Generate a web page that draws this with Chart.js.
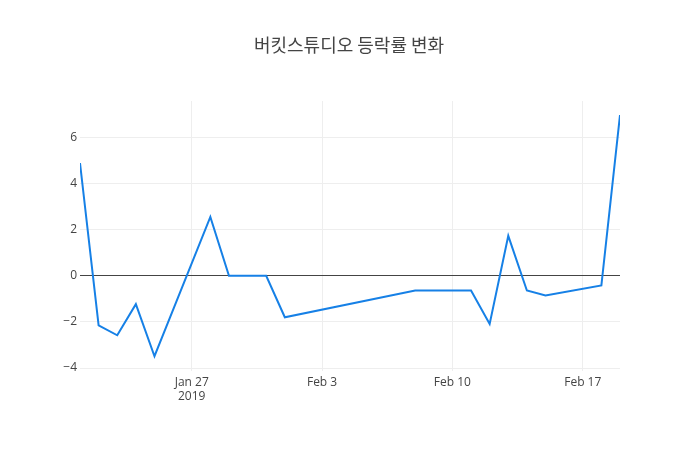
<!DOCTYPE html>
<html>
<head>
<meta charset="utf-8">
<script src="https://cdn.jsdelivr.net/npm/chart.js@4"></script>
<style>
  html, body { margin: 0; padding: 0; background: #fff; }
  #wrap { width: 700px; height: 450px; }
</style>
</head>
<body>
<div id="wrap"><canvas id="lineChart" width="700" height="450"></canvas></div>
<script>
const titleText = '버킷스튜디오 등락률 변화';

const dates = ['2019-01-21', '2019-01-22', '2019-01-23', '2019-01-24', '2019-01-25',
    '2019-01-28', '2019-01-29', '2019-01-30', '2019-01-31', '2019-02-01',
    '2019-02-08', '2019-02-11', '2019-02-12', '2019-02-13', '2019-02-14',
    '2019-02-15', '2019-02-18', '2019-02-19'];
const changes = [4.89, -2.15, -2.58, -1.23, -3.49,
    2.55, 0, 0, 0, -1.80,
    -0.64, -0.64, -2.09, 1.73, -0.64,
    -0.85, -0.42, 6.97];

const tickDates = ['2019-01-27', '2019-02-03', '2019-02-10', '2019-02-17'];
const monthNames = ['Jan', 'Feb', 'Mar', 'Apr', 'May', 'Jun', 'Jul', 'Aug', 'Sep', 'Oct', 'Nov', 'Dec'];

const DAY = 86400000;
function toDay(s) {
    return Date.UTC(+s.slice(0, 4), +s.slice(5, 7) - 1, +s.slice(8, 10)) / DAY;
}

const points = dates.map((d, i) => ({ x: toDay(d), y: changes[i] }));
const tickDays = tickDates.map(toDay);

function dayLabel(v) {
    const d = new Date(v * DAY);
    const txt = monthNames[d.getUTCMonth()] + ' ' + d.getUTCDate();
    if (v === tickDays[0]) return [txt, String(d.getUTCFullYear())];
    return txt;
}

const titlePlugin = {
    id: 'titlePlugin',
    afterDraw(chart) {
        const c = chart.ctx;
        c.save();
        c.font = '18px "Noto Sans CJK KR", "Open Sans", sans-serif';
        c.fillStyle = '#444';
        c.textAlign = 'center';
        c.textBaseline = 'middle';
        c.fillText(titleText, 349, 45);
        c.restore();
    }
};

const ctx = document.getElementById('lineChart').getContext('2d');
const lineChart = new Chart(ctx, {
    type: 'line',
    data: {
        datasets: [{
            data: points,
            borderColor: 'rgb(22, 128, 230)',
            borderWidth: 2,
            pointRadius: 0,
            fill: false,
            tension: 0
        }]
    },
    options: {
        responsive: false,
        animation: false,
        layout: { padding: { top: 101, right: 80, left: 0, bottom: 0 } },
        plugins: {
            legend: { display: false },
            tooltip: { enabled: false }
        },
        scales: {
            x: {
                type: 'linear',
                min: toDay(dates[0]),
                max: toDay(dates[dates.length - 1]),
                afterBuildTicks: axis => {
                    axis.ticks = tickDays.map(v => ({ value: v }));
                },
                afterFit: axis => { axis.height = 79; },
                grid: { color: '#eee', drawTicks: false },
                border: { display: false },
                ticks: {
                    callback: v => dayLabel(v),
                    color: '#444',
                    padding: 4,
                    maxRotation: 0,
                    font: { family: '"Open Sans", sans-serif', size: 12 }
                }
            },
            y: {
                min: -4.13,
                max: 7.58,
                afterBuildTicks: axis => {
                    axis.ticks = [-4, -2, 0, 2, 4, 6].map(v => ({ value: v }));
                },
                afterFit: axis => { axis.width = 80; },
                grid: {
                    color: c => c.tick && c.tick.value === 0 ? '#444' : '#eee',
                    drawTicks: false
                },
                border: { display: false },
                ticks: {
                    callback: v => v < 0 ? '\u2212' + Math.abs(v) : String(v),
                    color: '#444',
                    padding: 3,
                    font: { family: '"Open Sans", sans-serif', size: 12 }
                }
            }
        }
    },
    plugins: [titlePlugin]
});
</script>
</body>
</html>
